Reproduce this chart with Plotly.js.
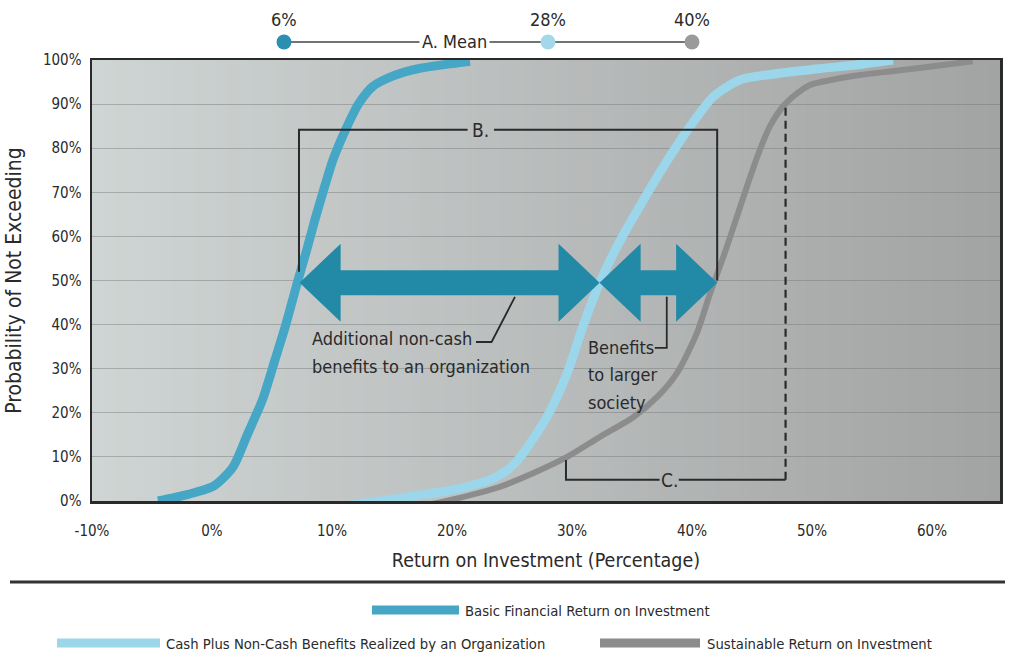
<!DOCTYPE html>
<html>
<head>
<meta charset="utf-8">
<script src="https://cdn.plot.ly/plotly-3.0.1.min.js"></script>
<style>html,body{margin:0;padding:0;background:#fff;}</style>
</head>
<body>
<div id="chart" style="width:1013px;height:662px;"></div>
<script>
// ---------- data ----------
const xTickVals = [-10, 0, 10, 20, 30, 40, 50, 60];
const xTickText = ['-10%', '0%', '10%', '20%', '30%', '40%', '50%', '60%'];
const yTickVals = [0, 10, 20, 30, 40, 50, 60, 70, 80, 90, 100];
const yTickText = ['0%', '10%', '20%', '30%', '40%', '50%', '60%', '70%', '80%', '90%', '100%'];

const seriesNames = [
  'Basic Financial Return on Investment',
  'Cash Plus Non-Cash Benefits Realized by an Organization',
  'Sustainable Return on Investment'
];

const basicX = [-4.5, -2.0, 0.2, 1.75, 3.0, 4.2, 5.25, 6.1, 7.1, 7.9, 8.6, 9.3, 10.1, 11.1, 12.2, 13.4, 15.2, 17.1, 19.5, 21.5];
const basicY = [0, 1.5, 3.5, 7.7, 15.4, 22.9, 32, 39.5, 49.4, 57, 64, 70.5, 77.5, 84, 90, 94, 96.5, 98, 99, 99.7];

const cashX = [11.25, 14, 17, 20, 22, 23.5, 24.7, 25.7, 27.9, 29.6, 30.9, 32.3, 34, 35.9, 37.9, 39.6, 41.75, 44, 47.3, 50.5, 54, 56.75];
const cashY = [-1, 0, 1.2, 2.5, 3.8, 5.2, 7.2, 10, 19, 29, 39.5, 49.4, 59, 68, 77, 84, 91.6, 95.5, 97, 98, 99, 100];

const sustX = [17.75, 20, 23.75, 26.75, 29.6, 32.3, 35.1, 37.1, 38.75, 40.4, 41.5, 42.7, 43.75, 44.6, 45.5, 46.5, 47.6, 48.7, 49.8, 52, 54, 56.8, 59.6, 63.4];
const sustY = [-1, 0.3, 3, 6.3, 10, 14.5, 19, 23.6, 29, 38, 47, 56, 64.5, 71.5, 78.5, 85, 89.5, 92.3, 94.3, 95.7, 96.6, 97.5, 98.4, 99.7];

const meanValues = [6, 28, 40];
const meanLabels = ['6%', '28%', '40%'];

// ---------- styles ----------
const FONT = 'DejaVu Sans Condensed, Liberation Sans Narrow, sans-serif';
const TXT = '#2a2a2a';
const colors = ['#45a6c6', '#9bd6ea', '#8c8c8c'];
const meanColors = ['#2a8fb0', '#a3d8ea', '#9a9a9a'];
const widths = [9, 9, 6];
const arrowColor = '#2289a7';

// plot frame in pixels (for paper coordinates of outside elements)
const PL = 92, PR = 1000, PT = 60, PB = 501;
const px = v => (v - PL) / (PR - PL);
const py = v => (PB - v) / (PB - PT);

const traces = [
  {x: basicX, y: basicY, name: seriesNames[0]},
  {x: cashX, y: cashY, name: seriesNames[1]},
  {x: sustX, y: sustY, name: seriesNames[2]}
].map((t, i) => Object.assign(t, {
  type: 'scatter', mode: 'lines',
  line: {color: colors[i], width: widths[i], shape: 'spline', smoothing: 0.7},
  hoverinfo: 'x+y'
}));
// draw order: sustainable behind, then cash, then basic
const ordered = [traces[2], traces[1], traces[0]];

const shapes = [];
// background gradient
const nB = 80, c0 = [207, 213, 212], c1 = [162, 163, 163];
for (let i = 0; i < nB; i++) {
  const t = (i + 0.5) / nB;
  const c = c0.map((v, k) => Math.round(v + (c1[k] - v) * t));
  shapes.push({type: 'rect', xref: 'paper', yref: 'paper', x0: i / nB, x1: (i + 1) / nB + 0.002, y0: 0, y1: 1,
    fillcolor: `rgb(${c[0]},${c[1]},${c[2]})`, line: {width: 0}, layer: 'below'});
}

// mean connecting line and markers (above the plot)
shapes.push({type: 'line', xref: 'x', yref: 'paper', x0: meanValues[0], x1: meanValues[2], y0: py(42), y1: py(42),
  line: {color: '#444', width: 1.5}});
meanValues.forEach((v, i) => shapes.push({type: 'circle', xref: 'x', yref: 'paper', xsizemode: 'pixel', ysizemode: 'pixel',
  xanchor: v, yanchor: py(42), x0: -7.5, x1: 7.5, y0: -7.5, y1: 7.5, fillcolor: meanColors[i], line: {width: 0}}));

// double arrows
const arrowY = 49.5, stops = [7.3, 32.3, 42.1];
const hl = 3.42, hh = 8.85, sh = 2.85;
function dblArrow(a, b, y) {
  const p = [[a, y], [a + hl, y + hh], [a + hl, y + sh], [b - hl, y + sh], [b - hl, y + hh], [b, y],
             [b - hl, y - hh], [b - hl, y - sh], [a + hl, y - sh], [a + hl, y - hh]];
  return 'M' + p.map(q => q[0] + ',' + q[1]).join(' L') + ' Z';
}
for (let i = 0; i < stops.length - 1; i++) {
  shapes.push({type: 'path', xref: 'x', yref: 'y', path: dblArrow(stops[i], stops[i + 1], arrowY),
    fillcolor: arrowColor, line: {width: 0}});
}

const bk = {color: '#2a2a2a', width: 2};
// B bracket
const bTop = 84.2, bL = 7.25, bR = 42.1;
shapes.push({type: 'path', xref: 'x', yref: 'y', path: `M${bL},52 L${bL},${bTop} L21.3,${bTop}`, line: bk});
shapes.push({type: 'path', xref: 'x', yref: 'y', path: `M23.5,${bTop} L${bR},${bTop} L${bR},50`, line: bk});
// C bracket
const cBot = 4.8, cL = 29.5, cR = 47.8;
shapes.push({type: 'path', xref: 'x', yref: 'y', path: `M${cL},9.3 L${cL},${cBot} L37.3,${cBot}`, line: bk});
shapes.push({type: 'line', xref: 'x', yref: 'y', x0: 38.9, x1: cR, y0: cBot, y1: cBot, line: bk});
shapes.push({type: 'line', xref: 'x', yref: 'y', x0: cR, x1: cR, y0: cBot, y1: 89.8,
  line: {color: '#2a2a2a', width: 2.2, dash: '8px,5px'}});
// leader lines
shapes.push({type: 'path', xref: 'x', yref: 'y', path: 'M22.0,36.05 L23.3,36.05 L25.25,46.3', line: {color: '#2a2a2a', width: 1.8}});
shapes.push({type: 'path', xref: 'x', yref: 'y', path: 'M36.9,34.7 L37.9,34.7 L37.9,46.3', line: {color: '#2a2a2a', width: 1.8}});

// rule and legend swatches
shapes.push({type: 'line', xref: 'paper', yref: 'paper', x0: px(10), x1: px(1005), y0: py(582), y1: py(582),
  line: {color: '#333', width: 3}});
const legendItems = [
  {x0: 372, x1: 459, y: 610, tx: 463},
  {x0: 57, x1: 160, y: 643, tx: 164},
  {x0: 600, x1: 700, y: 643, tx: 705}
];
legendItems.forEach((it, i) => {
  shapes.push({type: 'line', xref: 'paper', yref: 'paper', x0: px(it.x0), x1: px(it.x1), y0: py(it.y), y1: py(it.y),
    line: {color: colors[i], width: 9}});
});

const annotations = [];
const ann = (o) => annotations.push(Object.assign({showarrow: false, font: {family: FONT, size: 18, color: TXT}}, o));
meanValues.forEach((v, i) => ann({xref: 'x', yref: 'paper', x: v, y: py(20), text: meanLabels[i], xanchor: 'center', yanchor: 'middle', font: {family: FONT, size: 18, color: TXT}}));
ann({xref: 'x', yref: 'paper', x: 20.25, y: py(41), text: 'A. Mean', bgcolor: '#ffffff', borderpad: 2, xanchor: 'center', yanchor: 'middle'});
ann({xref: 'x', yref: 'y', x: 22.4, y: bTop, text: 'B.', xanchor: 'center', yanchor: 'middle', font: {family: FONT, size: 19, color: TXT}});
ann({xref: 'x', yref: 'y', x: 38.1, y: cBot, text: 'C.', xanchor: 'center', yanchor: 'middle', font: {family: FONT, size: 19, color: TXT}});
ann({xref: 'x', yref: 'y', x: 8.2, y: 36.9, text: 'Additional non-cash', xanchor: 'left', yanchor: 'middle'});
ann({xref: 'x', yref: 'y', x: 8.2, y: 30.4, text: 'benefits to an organization', xanchor: 'left', yanchor: 'middle'});
ann({xref: 'x', yref: 'y', x: 31.2, y: 34.7, text: 'Benefits', xanchor: 'left', yanchor: 'middle'});
ann({xref: 'x', yref: 'y', x: 31.2, y: 28.6, text: 'to larger', xanchor: 'left', yanchor: 'middle'});
ann({xref: 'x', yref: 'y', x: 31.2, y: 22.4, text: 'society', xanchor: 'left', yanchor: 'middle'});
legendItems.forEach((it, i) => ann({xref: 'paper', yref: 'paper', x: px(it.tx), y: py(it.y), text: seriesNames[i],
  xanchor: 'left', yanchor: 'middle', font: {family: FONT, size: 14.7, color: TXT}}));

const layout = {
  width: 1013, height: 662,
  margin: {l: PL, r: 1013 - PR, t: PT, b: 662 - PB},
  paper_bgcolor: '#ffffff', plot_bgcolor: 'rgba(0,0,0,0)',
  showlegend: false,
  font: {family: FONT, color: TXT},
  xaxis: {
    range: [-10, 65.67], tickvals: xTickVals, ticktext: xTickText,
    showgrid: false, zeroline: false, showline: true, mirror: true, linecolor: '#2a2a2a', linewidth: 2.5,
    ticks: '', ticklabelstandoff: 14, tickfont: {family: FONT, size: 15, color: TXT},
    title: {text: 'Return on Investment (Percentage)', font: {family: FONT, size: 19.5, color: TXT}, standoff: 15}
  },
  yaxis: {
    range: [0, 100], tickvals: yTickVals, ticktext: yTickText,
    showgrid: true, gridcolor: 'rgba(115,120,120,0.45)', gridwidth: 1,
    zeroline: false, showline: true, mirror: true, linecolor: '#2a2a2a', linewidth: 2.5,
    ticks: '', ticklabelstandoff: 5, tickfont: {family: FONT, size: 15, color: TXT},
    title: {text: 'Probability of Not Exceeding', font: {family: FONT, size: 21, color: TXT}, standoff: 16}
  },
  shapes: shapes,
  annotations: annotations
};

Plotly.newPlot('chart', ordered, layout, {displayModeBar: false, staticPlot: true});
</script>
</body>
</html>
